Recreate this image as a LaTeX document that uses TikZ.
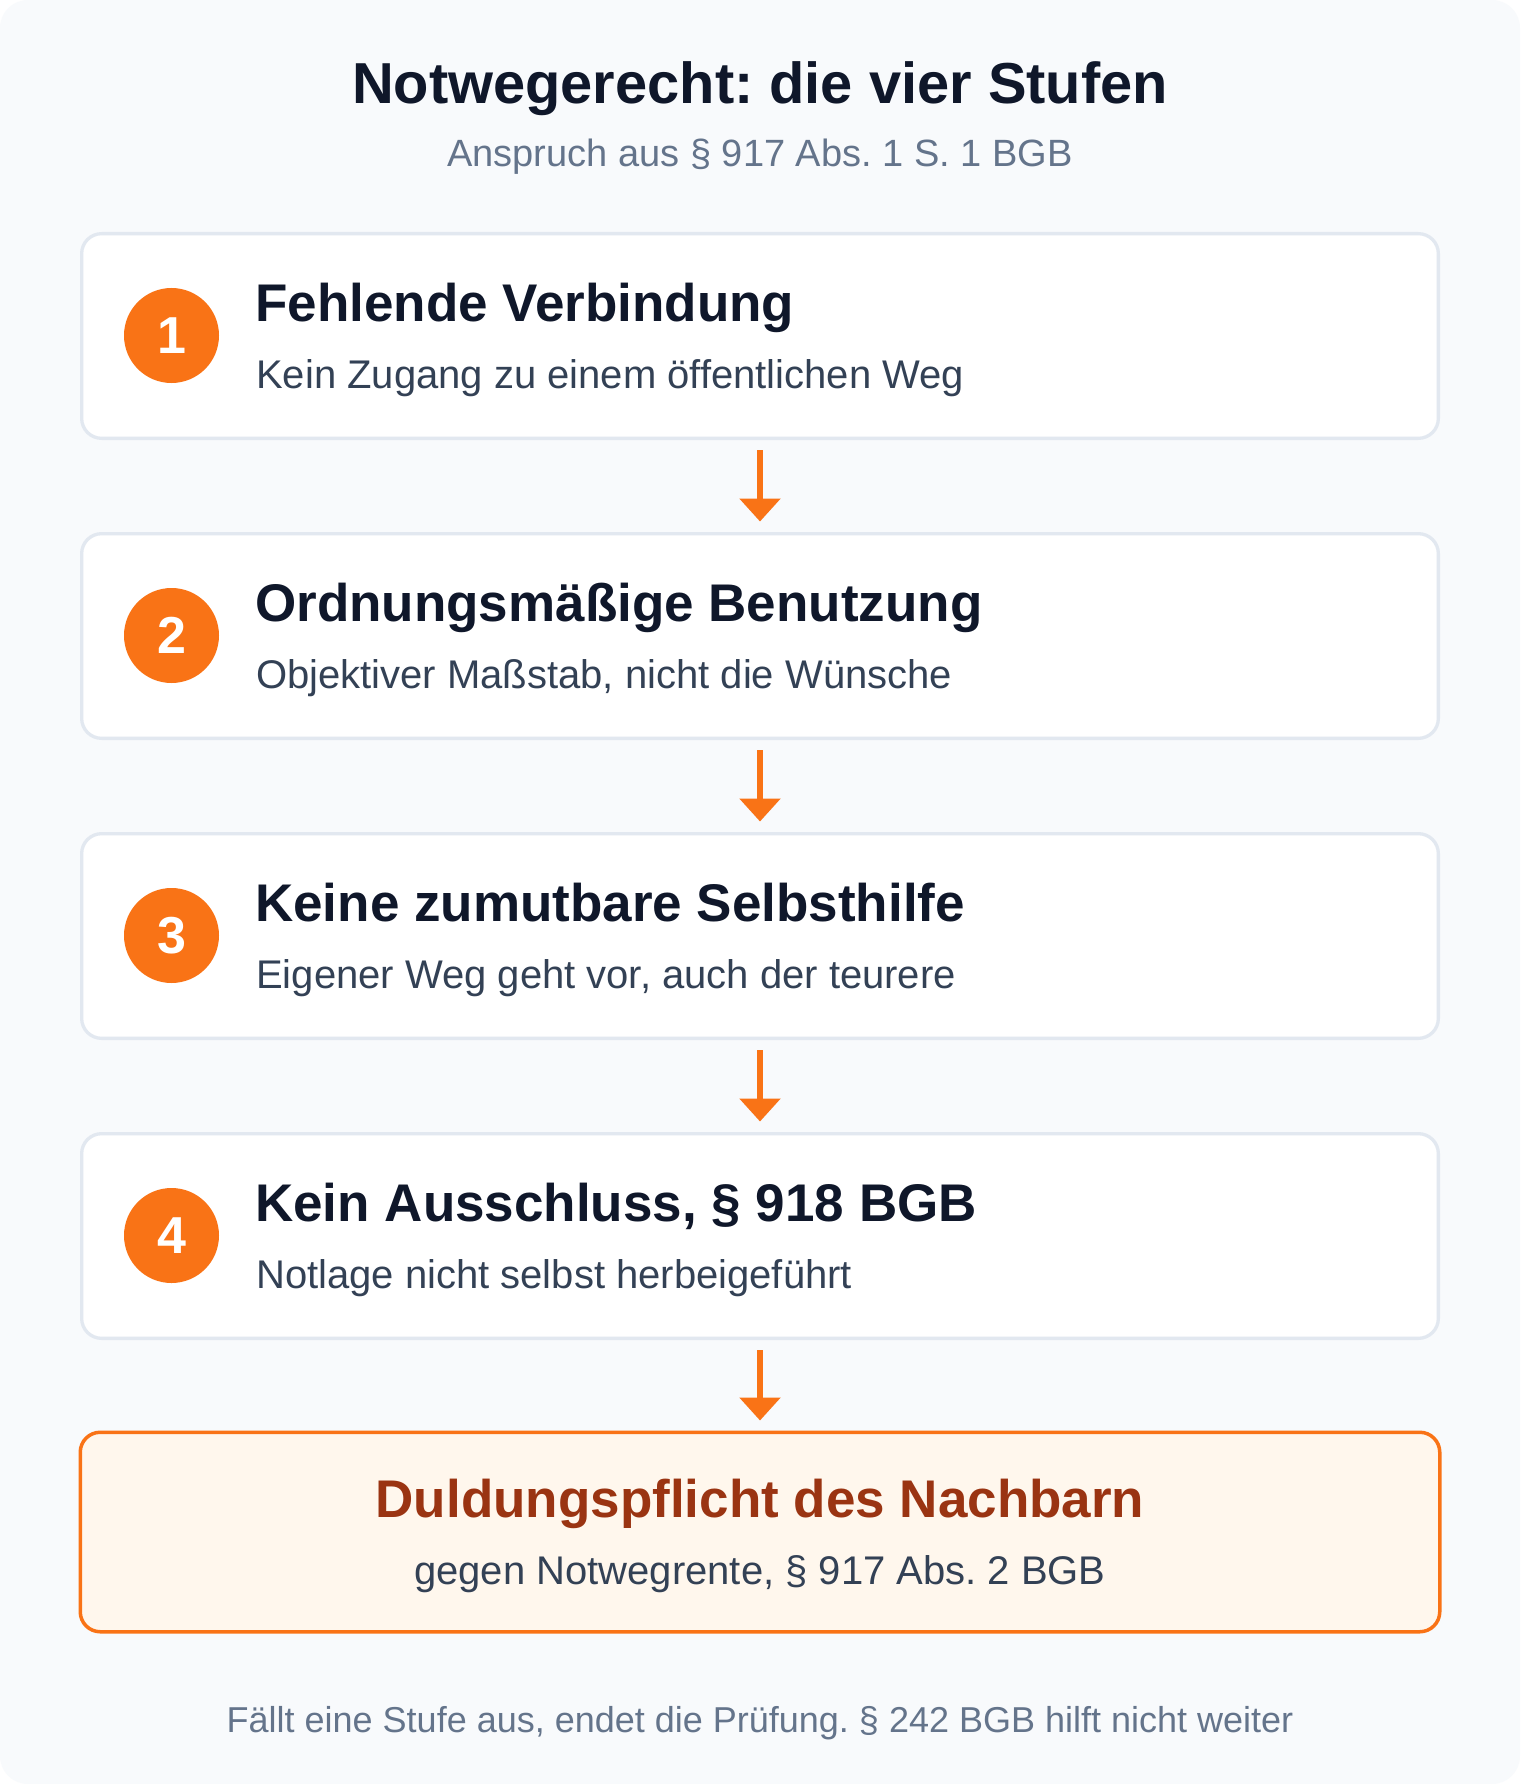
\documentclass[tikz,border=0pt]{standalone}
\usepackage{fontspec}
\setmainfont{Liberation Sans}
\usetikzlibrary{arrows.meta}
\frenchspacing
\definecolor{bgc}{HTML}{F8FAFC}
\definecolor{ink}{HTML}{0F172A}
\definecolor{subink}{HTML}{334155}
\definecolor{muted}{HTML}{64748B}
\definecolor{edge}{HTML}{E2E8F0}
\definecolor{accent}{HTML}{F97316}
\definecolor{resfill}{HTML}{FFF7ED}
\definecolor{resink}{HTML}{9A3412}
\begin{document}
\begin{tikzpicture}[x=1pt,y=-1pt,
  stagebox/.style={draw=edge, line width=3.3pt, fill=white, rounded corners=20pt,
    minimum width=1356.7pt, minimum height=204.7pt, inner sep=0pt},
  resbox/.style={draw=accent, line width=3.5pt, fill=resfill, rounded corners=20pt,
    minimum width=1359.5pt, minimum height=199.5pt, inner sep=0pt},
  badge/.style={circle, fill=accent, minimum size=95pt, inner sep=0pt},
  badgenum/.style={text=white, font=\fontsize{52}{60}\selectfont\bfseries, inner sep=0pt},
  headtxt/.style={text=ink, font=\fontsize{53}{62}\selectfont\bfseries, inner sep=0pt, anchor=base west},
  subtxt/.style={text=subink, font=\fontsize{40}{48}\selectfont, inner sep=0pt, anchor=base west},
  flow/.style={draw=accent, line width=6pt, -{Triangle[width=40pt,length=23pt]}}
]
\useasboundingbox (0,0) rectangle (1520,1784);
\fill[white] (0,0) rectangle (1520,1784);
\fill[bgc, rounded corners=28pt] (0,0) rectangle (1520,1784);

\node[text=ink, font=\fontsize{57.8}{66}\selectfont\bfseries, inner sep=0pt, anchor=base] (title) at (760,104) {Notwegerecht: die vier Stufen};
\node[text=muted, font=\fontsize{38}{46}\selectfont, inner sep=0pt, anchor=base] (subtitle) at (760,167) {Anspruch aus § 917 Abs. 1 S. 1 BGB};

% stage 1
\node[stagebox] (b1) at (760,336) {};
\node[badge] (c1) at (171.5,335.5) {};
\node[badgenum] (n1) at (c1.center) {1};
\node[headtxt] (h1) at (255,321) {Fehlende Verbindung};
\node[subtxt] (s1) at (256,388) {Kein Zugang zu einem öffentlichen Weg};

% stage 2
\node[stagebox] (b2) at (760,636) {};
\node[badge] (c2) at (171.5,635.5) {};
\node[badgenum] (n2) at (c2.center) {2};
\node[headtxt] (h2) at (255,621) {Ordnungsmäßige Benutzung};
\node[subtxt] (s2) at (256,688) {Objektiver Maßstab, nicht die Wünsche};

% stage 3
\node[stagebox] (b3) at (760,936) {};
\node[badge] (c3) at (171.5,935.5) {};
\node[badgenum] (n3) at (c3.center) {3};
\node[headtxt] (h3) at (255,921) {Keine zumutbare Selbsthilfe};
\node[subtxt] (s3) at (256,988) {Eigener Weg geht vor, auch der teurere};

% stage 4
\node[stagebox] (b4) at (760,1236) {};
\node[badge] (c4) at (171.5,1235.5) {};
\node[badgenum] (n4) at (c4.center) {4};
\node[headtxt] (h4) at (255,1221) {Kein Ausschluss, § 918 BGB};
\node[subtxt] (s4) at (256,1288) {Notlage nicht selbst herbeigeführt};

% result
\node[resbox] (res) at (760,1532) {};
\node[text=resink, font=\fontsize{53}{62}\selectfont\bfseries, inner sep=0pt, anchor=base] (rt) at (760,1517) {Duldungspflicht des Nachbarn};
\node[text=subink, font=\fontsize{40}{48}\selectfont, inner sep=0pt, anchor=base] (rs) at (760,1584) {gegen Notwegrente, § 917 Abs. 2 BGB};

% arrows
\draw[flow] ([yshift=-10pt]b1.south) -- ([yshift=10.5pt]b2.north);
\draw[flow] ([yshift=-10pt]b2.south) -- ([yshift=10.5pt]b3.north);
\draw[flow] ([yshift=-10pt]b3.south) -- ([yshift=10.5pt]b4.north);
\draw[flow] ([yshift=-10pt]b4.south) -- ([yshift=10pt]res.north);

\node[text=muted, font=\fontsize{36}{44}\selectfont, inner sep=0pt, anchor=base] (foot) at (760,1732) {Fällt eine Stufe aus, endet die Prüfung. § 242 BGB hilft nicht weiter};
\end{tikzpicture}
\end{document}
